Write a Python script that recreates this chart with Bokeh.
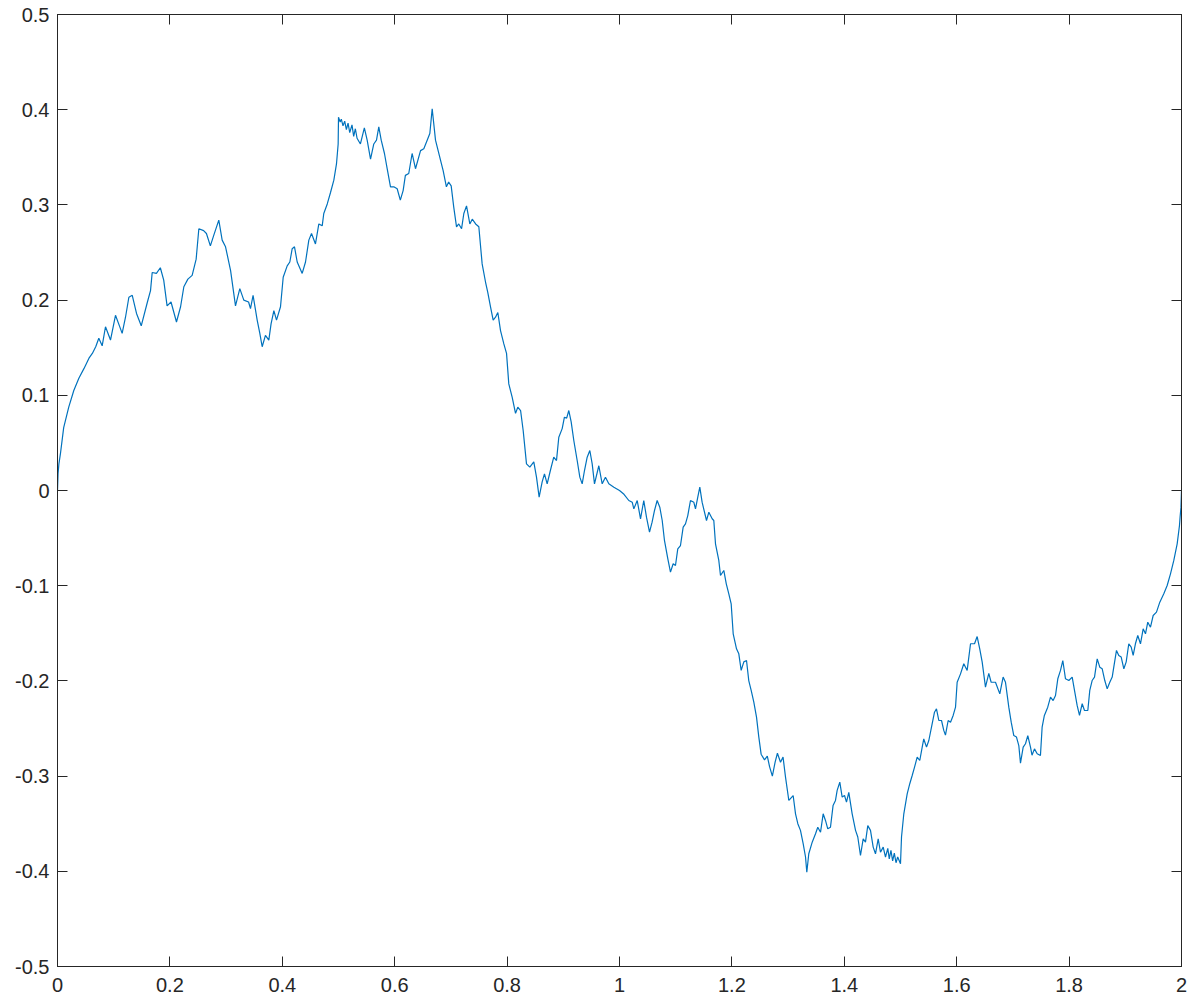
from bokeh.plotting import figure
from bokeh.models import Range1d, LinearAxis, FixedTicker
from bokeh.embed import file_html
from bokeh.resources import INLINE

# ---- data (x from 0 to 1) ----
x_left = [
    0.000, 0.001, 0.0025, 0.0053, 0.011, 0.020, 0.029, 0.038, 0.047, 0.056, 0.062, 0.068,
    0.0735, 0.0795, 0.0854, 0.0943, 0.1032, 0.112, 0.115, 0.121, 0.127, 0.133, 0.1406, 0.149,
    0.160, 0.1655, 0.1685, 0.176, 0.183, 0.189, 0.195, 0.202, 0.2117, 0.219, 0.2248, 0.232,
    0.2396, 0.2467, 0.2515, 0.260, 0.265, 0.272, 0.278, 0.287, 0.293, 0.299, 0.308, 0.3167,
    0.3244, 0.3315, 0.340, 0.3434, 0.348, 0.3553, 0.360, 0.3642, 0.370, 0.376, 0.380, 0.385,
    0.3897, 0.3968, 0.4016, 0.4087, 0.4134, 0.4176, 0.4217, 0.4265, 0.4354, 0.4413, 0.4472, 0.452,
    0.459, 0.465, 0.471, 0.4738, 0.480, 0.4858, 0.4917, 0.4964, 0.4994, 0.500,
    0.503, 0.505, 0.508, 0.511, 0.514, 0.517, 0.520, 0.524, 0.527, 0.530, 0.533,
    0.539, 0.546, 0.551, 0.557, 0.5628, 0.5676, 0.5717, 0.576,
    0.5818, 0.5866, 0.5925, 0.5984, 0.6044, 0.610, 0.615, 0.619, 0.625, 0.631, 0.637, 0.646,
    0.6518, 0.6578, 0.6625, 0.6667, 0.6726, 0.6815, 0.6862, 0.692, 0.696, 0.7005, 0.705, 0.710,
    0.714, 0.719, 0.723, 0.7278, 0.7337, 0.738, 0.744, 0.7497, 0.7556, 0.7616, 0.7656, 0.7705,
    0.7752, 0.7794, 0.7835, 0.7883, 0.7942, 0.799, 0.803, 0.809, 0.815, 0.819, 0.824, 0.8286,
    0.8345, 0.8404, 0.8475, 0.8523, 0.857, 0.8624, 0.8665, 0.8713, 0.877, 0.883, 0.8879, 0.892,
    0.898, 0.902, 0.906, 0.9098, 0.914, 0.9187, 0.9247, 0.9294, 0.9336, 0.9377, 0.9425, 0.9472,
    0.9514, 0.9555, 0.9632, 0.9692, 0.975, 0.981, 0.990,
]
y_left = [
    0.000, 0.018, 0.028, 0.039, 0.066, 0.0875, 0.105, 0.118, 0.128, 0.139, 0.144, 0.151,
    0.160, 0.152, 0.172, 0.158, 0.184, 0.170, 0.165, 0.182, 0.203, 0.205, 0.186, 0.173,
    0.198, 0.210, 0.229, 0.228, 0.234, 0.221, 0.194, 0.198, 0.177, 0.193, 0.214, 0.222,
    0.226, 0.243, 0.275, 0.273, 0.270, 0.257, 0.268, 0.284, 0.263, 0.256, 0.231, 0.194,
    0.212, 0.200, 0.198, 0.191, 0.205, 0.179, 0.165, 0.151, 0.163, 0.158, 0.175, 0.189,
    0.179, 0.193, 0.224, 0.236, 0.240, 0.254, 0.256, 0.240, 0.228, 0.240, 0.263, 0.270,
    0.259, 0.280, 0.278, 0.291, 0.301, 0.313, 0.326, 0.343, 0.364, 0.392,
    0.387, 0.390, 0.383, 0.388, 0.379, 0.386, 0.376, 0.384, 0.372, 0.380, 0.370,
    0.364, 0.381, 0.368, 0.348, 0.364, 0.368, 0.382, 0.368,
    0.354, 0.338, 0.319, 0.319, 0.317, 0.305, 0.315, 0.331, 0.333, 0.354, 0.338, 0.357,
    0.359, 0.368, 0.375, 0.401, 0.368, 0.347, 0.336, 0.319, 0.324, 0.320, 0.298, 0.277,
    0.280, 0.275, 0.291, 0.299, 0.280, 0.285, 0.280, 0.277, 0.238, 0.219, 0.208, 0.193,
    0.179, 0.182, 0.187, 0.168, 0.154, 0.144, 0.112, 0.098, 0.081, 0.0875, 0.084, 0.063,
    0.028, 0.0245, 0.030, 0.014, -0.007, 0.009, 0.0175, 0.007, 0.021, 0.035, 0.0315, 0.056,
    0.065, 0.077, 0.076, 0.084, 0.072, 0.0525, 0.0315, 0.014, 0.007, 0.021, 0.035, 0.042,
    0.028, 0.007, 0.026, 0.007, 0.014, 0.007, 0.0035,
]

# ---- data (x from 1 to 2) ----
x_right = [
    1.000, 1.008, 1.0166, 1.0226, 1.0255, 1.0315, 1.0374, 1.0432, 1.048, 1.0534, 1.058, 1.0623, 1.067,
    1.0717, 1.076, 1.080, 1.086, 1.0907, 1.0955, 1.0996, 1.1037, 1.1085, 1.1133, 1.1174, 1.1215,
    1.1263, 1.1322, 1.1352, 1.1393, 1.1429, 1.147, 1.1548, 1.159, 1.1649, 1.1678, 1.1708, 1.1767,
    1.1797, 1.1856, 1.190, 1.1945, 1.1987, 1.2023, 1.2082, 1.2123, 1.2165, 1.2212, 1.226, 1.230,
    1.2343, 1.239, 1.2438, 1.2479, 1.252, 1.258, 1.263, 1.267, 1.272, 1.277, 1.281, 1.2865,
    1.291, 1.2954, 1.3013, 1.309, 1.3132, 1.3173, 1.322, 1.3268, 1.331, 1.3333, 1.3368, 1.3429,
    1.3488, 1.3528, 1.3577, 1.3624, 1.3665, 1.3706, 1.3754, 1.380, 1.3843, 1.3873, 1.392, 1.3962,
    1.4004, 1.4039, 1.408, 1.414, 1.420, 1.424, 1.4288, 1.4336, 1.4377, 1.4418, 1.4466, 1.4514,
    1.4555, 1.4603, 1.4644, 1.4692, 1.4733, 1.4774, 1.480, 1.483, 1.486, 1.489, 1.492, 1.495,
    1.500, 1.5018, 1.5059, 1.5119,
    1.5165, 1.5208, 1.525, 1.5297, 1.5343, 1.5386, 1.5414, 1.5463, 1.5504, 1.5564, 1.5605, 1.564,
    1.5682, 1.573, 1.577, 1.580, 1.5848, 1.589, 1.5937, 1.5979, 1.6008, 1.6068, 1.6126, 1.6186,
    1.6246, 1.6317, 1.6364, 1.641, 1.6453, 1.6512, 1.6571, 1.6613, 1.669, 1.6767, 1.6826, 1.6868,
    1.6927, 1.697, 1.7016, 1.7064, 1.7105, 1.7135, 1.7183, 1.7224, 1.7265, 1.7313, 1.734, 1.7384,
    1.7432, 1.749, 1.752, 1.756, 1.762, 1.7669, 1.7716, 1.7758, 1.7799, 1.7847, 1.7888, 1.7936,
    1.7995, 1.8055, 1.8096, 1.8143, 1.8185, 1.8233, 1.8274, 1.8333, 1.8368, 1.841, 1.8452, 1.850,
    1.8546, 1.8589, 1.8635, 1.8678, 1.8724, 1.8767, 1.8795, 1.8843, 1.8884, 1.8927, 1.8974, 1.9016,
    1.9062, 1.9105, 1.914, 1.918, 1.9222, 1.927, 1.9318, 1.9359, 1.940, 1.9448, 1.9496, 1.9555,
    1.9614, 1.9685, 1.9745, 1.9804, 1.9863, 1.9923, 1.9964, 1.9975, 1.999, 2.000,
]
y_right = [
    0.000, -0.004, -0.0105, -0.0123, -0.0193, -0.0105, -0.0297, -0.0105, -0.028, -0.0438, -0.0333, -0.021, -0.0105,
    -0.0175, -0.0315, -0.0525, -0.0718, -0.0858, -0.077, -0.0788, -0.0613, -0.0578, -0.0385, -0.035, -0.0263,
    -0.0105, -0.0123, -0.0193, -0.007, 0.0035, -0.0123, -0.0315, -0.0228, -0.0297, -0.0315, -0.056, -0.0735,
    -0.0893, -0.084, -0.098, -0.1085, -0.119, -0.1505, -0.1663, -0.1716, -0.189, -0.180, -0.1786, -0.1996,
    -0.210, -0.2224, -0.238, -0.259, -0.277, -0.283, -0.279, -0.290, -0.300, -0.285, -0.276, -0.2854,
    -0.280, -0.301, -0.3256, -0.3204, -0.3396, -0.350, -0.357, -0.371, -0.385, -0.401, -0.3816, -0.3694,
    -0.3606, -0.3537, -0.359, -0.3396, -0.3466, -0.3554, -0.3537, -0.331, -0.3256, -0.315, -0.3064, -0.322,
    -0.3204, -0.3274, -0.317, -0.3396, -0.357, -0.364, -0.3834, -0.366, -0.3694, -0.352, -0.357, -0.3746,
    -0.3816, -0.366, -0.380, -0.3746, -0.385, -0.376, -0.387, -0.378, -0.389, -0.381, -0.391, -0.385,
    -0.392, -0.364, -0.3396, -0.3186,
    -0.308, -0.2994, -0.2906, -0.280, -0.2836, -0.2696, -0.261, -0.2696, -0.2626, -0.245, -0.2329, -0.2293,
    -0.2416, -0.2416, -0.252, -0.257, -0.2416, -0.2434, -0.2363, -0.2276, -0.2014, -0.1926, -0.182, -0.189,
    -0.161, -0.161, -0.1534, -0.1663, -0.180, -0.2066, -0.192, -0.2014, -0.2014, -0.2136, -0.196, -0.2014,
    -0.2276, -0.2434, -0.2574, -0.259, -0.2679, -0.2864, -0.2696, -0.266, -0.2574, -0.2696, -0.278, -0.2714,
    -0.2766, -0.2784, -0.2486, -0.2363, -0.2276, -0.2171, -0.2206, -0.2153, -0.1978, -0.189, -0.1786, -0.1978,
    -0.1996, -0.196, -0.210, -0.2258, -0.2363, -0.224, -0.2311, -0.2311, -0.210, -0.1996, -0.196, -0.1768,
    -0.1856, -0.1873, -0.1996, -0.2083, -0.2014, -0.196, -0.1856, -0.168, -0.1733, -0.175, -0.1873, -0.180,
    -0.161, -0.1646, -0.1733, -0.161, -0.1523, -0.161, -0.1453, -0.1505, -0.1383, -0.1436, -0.1313, -0.1278,
    -0.1173, -0.1085, -0.0998, -0.0875, -0.0735, -0.056, -0.0368, -0.028, -0.018, 0.000,
]

x_ticks = [0, 0.2, 0.4, 0.6, 0.8, 1, 1.2, 1.4, 1.6, 1.8, 2]
x_tick_labels = ["0", "0.2", "0.4", "0.6", "0.8", "1", "1.2", "1.4", "1.6", "1.8", "2"]
y_ticks = [-0.5, -0.4, -0.3, -0.2, -0.1, 0, 0.1, 0.2, 0.3, 0.4, 0.5]
y_tick_labels = ["-0.5", "-0.4", "-0.3", "-0.2", "-0.1", "0", "0.1", "0.2", "0.3", "0.4", "0.5"]

AX = "#262626"
FONT = "Liberation Sans"

p = figure(x_range=Range1d(0, 2), y_range=Range1d(-0.5, 0.5),
           frame_width=1124, frame_height=952,
           min_border_left=57, min_border_right=7, min_border_top=14, min_border_bottom=34,
           output_backend="svg", toolbar_location=None)
p.xgrid.visible = False
p.ygrid.visible = False
p.outline_line_color = AX
p.background_fill_color = "white"

p.line(x_left + x_right, y_left + y_right, line_color="#0072BD", line_width=1.2)


def style(ax, ticks, labels, show):
    ax.ticker = FixedTicker(ticks=ticks)
    if show:
        ax.major_label_overrides = {t: l for t, l in zip(ticks, labels)}
        ax.major_label_text_font_size = "20px"
    else:
        ax.major_label_overrides = {t: "" for t in ticks}
        ax.major_label_text_font_size = "1px"
    ax.major_tick_in = 10
    ax.major_tick_out = 0
    ax.minor_tick_in = 0
    ax.minor_tick_out = 0
    ax.axis_line_color = AX
    ax.major_tick_line_color = AX
    ax.axis_line_width = 1
    ax.major_label_text_color = AX
    ax.major_label_text_font = FONT


style(p.xaxis[0], x_ticks, x_tick_labels, True)
style(p.yaxis[0], y_ticks, y_tick_labels, True)
p.xaxis[0].major_label_standoff = 11
p.yaxis[0].major_label_standoff = 8

top = LinearAxis()
right = LinearAxis()
style(top, x_ticks, x_tick_labels, False)
style(right, y_ticks, y_tick_labels, False)
top.major_label_standoff = 0
right.major_label_standoff = 0
p.add_layout(top, "above")
p.add_layout(right, "right")

open("out.html", "w").write(file_html(p, INLINE))
